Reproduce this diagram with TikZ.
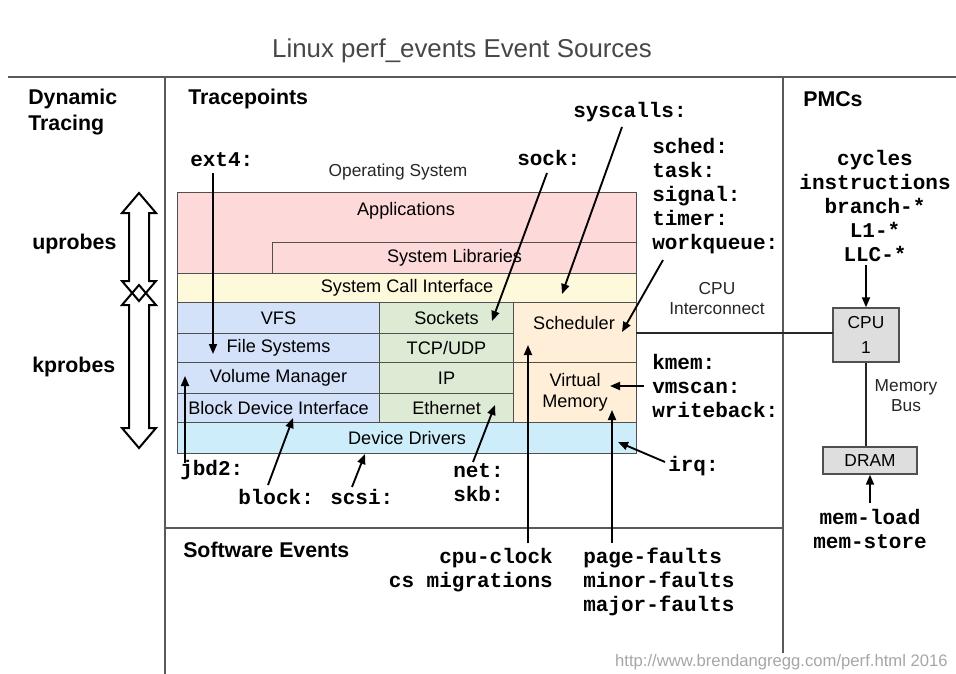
\documentclass[tikz,border=0pt]{standalone}
\usepackage{fontspec}
\setmainfont{Liberation Sans}
\newfontfamily\monofont{Liberation Mono}
\usetikzlibrary{arrows.meta}
\definecolor{apppink}{HTML}{FDD9D9}
\definecolor{sciyellow}{HTML}{FFF9DC}
\definecolor{fsblue}{HTML}{D3E1F9}
\definecolor{netgreen}{HTML}{DDEBD5}
\definecolor{korange}{HTML}{FFEFD9}
\definecolor{ddcyan}{HTML}{CDEDFA}
\definecolor{hwgray}{HTML}{DEDEDE}
\definecolor{edgegray}{HTML}{505050}
\begin{document}
\begin{tikzpicture}[x=0.75pt,y=-0.75pt,
  layer/.style={draw=edgegray, line width=0.8pt, inner sep=0pt, anchor=north west},
  bx/.style n args={2}{minimum width=#1*0.75pt, minimum height=#2*0.75pt},
  lt/.style={font=\fontsize{13.6}{16}\selectfont, inner sep=0pt, align=center},
  sm/.style={font=\fontsize{13}{15}\selectfont, inner sep=0pt, align=center, text=black!85},
  tp/.style={font=\monofont\bfseries\fontsize{15.75}{18}\selectfont, inner sep=0pt, align=left},
  hd/.style={font=\bfseries\fontsize{16}{19.5}\selectfont, inner sep=0pt, align=left, anchor=west},
  hw/.style={draw=edgegray, line width=1pt, fill=hwgray, inner sep=0pt, align=center, font=\fontsize{13}{19}\selectfont},
  div/.style={draw=black!65, line width=1pt},
  arr/.style={-{Triangle[length=7.5pt,width=6pt]}, line width=1.4pt},
  dbl/.style={draw=black, line width=1.5pt, line join=miter}
]
\useasboundingbox (0,0) rectangle (956,674);

% title and dividers
\node[font=\fontsize{19.4}{23}\selectfont, text=black!72, inner sep=0pt] (title) at (462,51) {Linux perf\_events Event Sources};
\draw[div] (8,77) -- (956,77);
\draw[div] (165,77) -- (165,674);
\draw[div] (783,77) -- (783,653);
\draw[div] (165,528) -- (783,528);

% headers
\node[hd] (dyn) at (28,112) {Dynamic\\Tracing};
\node[hd] (tracep) at (188,99) {Tracepoints};
\node[hd] (pmc) at (803,99) {PMCs};
\node[hd] (swev) at (183,550) {Software Events};
\node[hd] (uprobes) at (32,244) {uprobes};
\node[hd] (kprobes) at (32,367) {kprobes};

% double arrows
\draw[dbl] (139,193) -- (156,213) -- (149,213) -- (149,281) -- (156,281) -- (139,301)
  -- (122,281) -- (129,281) -- (129,213) -- (122,213) -- cycle;
\draw[dbl] (139,285) -- (156,305) -- (149,305) -- (149,428) -- (156,428) -- (139,448)
  -- (122,428) -- (129,428) -- (129,305) -- (122,305) -- cycle;

% stack
\node[sm] (os) at (398,172) {Operating System};
\node[layer, fill=apppink, bx={459}{81}] (app) at (177,192) {};
\node[lt] (apptext) at (406,211) {Applications};
\node[layer, fill=apppink, bx={364}{31}, lt, anchor=north west] (syslib) at (272,242) {System Libraries};
\node[layer, fill=sciyellow, bx={459}{29}, lt, anchor=north west] (sci) at (177,273) {System Call Interface};
\node[layer, fill=fsblue, bx={202}{31}, lt, anchor=north west] (vfs) at (177,302) {VFS};
\node[layer, fill=fsblue, bx={202}{29}, lt, anchor=north west] (fs) at (177,333) {File Systems};
\node[layer, fill=fsblue, bx={202}{31}, lt, anchor=north west] (vm) at (177,362) {Volume Manager};
\node[layer, fill=fsblue, bx={202}{29}, lt, anchor=north west] (bdi) at (177,393) {Block Device Interface};
\node[layer, fill=netgreen, bx={134}{31}, lt, anchor=north west] (sockets) at (379,302) {Sockets};
\node[layer, fill=netgreen, bx={134}{29}, lt, anchor=north west] (tcp) at (379,333) {TCP/UDP};
\node[layer, fill=netgreen, bx={134}{31}, lt, anchor=north west] (ip) at (379,362) {IP};
\node[layer, fill=netgreen, bx={134}{29}, lt, anchor=north west] (eth) at (379,393) {Ethernet};
\node[layer, fill=korange, bx={123}{60}] (sched) at (513,302) {};
\node[lt] (schedtext) at (574,323) {Scheduler};
\node[layer, fill=korange, bx={123}{60}, lt, anchor=north west] (vmem) at (513,362) {Virtual\\Memory};
\node[layer, fill=ddcyan, bx={459}{31}, lt, anchor=north west] (dd) at (177,422) {Device Drivers};

% hardware
\node[sm] (interc) at (717,299) {CPU\\Interconnect};
\node[hw, bx={66}{54}] (cpu) at (866,335) {CPU\\1};
\node[hw, bx={94}{27}] (dram) at (870,460.5) {DRAM};
\node[sm] (membus) at (906,396) {Memory\\Bus};
\coordinate (icA) at (636,333);
\coordinate (icB) at (833,333);
\draw[line width=1pt, draw=black!85] (icA) -- (icB);
\draw[line width=1pt, draw=black!85] (cpu.south) -- (cpu.south |- dram.north);

% tracepoint labels
\node[tp, anchor=west] (ext4) at (190,160) {ext4:};
\node[tp, anchor=west] (sockl) at (517,158) {sock:};
\node[tp, anchor=west] (syscalls) at (573,112) {syscalls:};
\node[tp, anchor=west] (schedl) at (652,196) {sched:\\task:\\signal:\\timer:\\workqueue:};
\node[tp, anchor=west] (kmem) at (652,385.5) {kmem:\\vmscan:\\writeback:};
\node[tp, anchor=west] (irq) at (668,466) {irq:};
\node[tp, anchor=west] (jbd2) at (180,470) {jbd2:};
\node[tp, anchor=west] (blockl) at (238,497) {block:};
\node[tp, anchor=west] (scsi) at (330,497) {scsi:};
\node[tp, anchor=west] (netl) at (453,483) {net:\\skb:};
\node[tp, anchor=east, align=right] (cpuclock) at (553,570) {cpu-clock\\cs migrations};
\node[tp, anchor=west] (pagefaults) at (583,582) {page-faults\\minor-faults\\major-faults};
\node[tp, align=center] (pmcs) at (875,206) {cycles\\instructions\\branch-*\\L1-*\\LLC-*};
\node[tp, align=center] (mem) at (870,529) {mem-load\\mem-store};

% arrow endpoints
\coordinate (ext4s) at (213,173);   \coordinate (ext4t) at (213,354);
\coordinate (socks) at (547,173);   \coordinate (sockt) at (492,321);
\coordinate (syss) at (622,127);    \coordinate (syst) at (562,294);
\coordinate (wqs) at (663,260);     \coordinate (wqt) at (622,332);
\coordinate (vms) at (644,386);     \coordinate (vmt) at (610,386);
\coordinate (irqs) at (665,462);    \coordinate (irqt) at (618,442);
\coordinate (jbds) at (185,463);    \coordinate (jbdt) at (185,376);
\coordinate (blks) at (268,485);    \coordinate (blkt) at (293,418);
\coordinate (scss) at (352,487);    \coordinate (scst) at (365,454);
\coordinate (nets) at (473,462);    \coordinate (nett) at (495,405);
\coordinate (cpus) at (528,543);    \coordinate (cput) at (528,345);
\coordinate (pfs) at (612,543);     \coordinate (pft) at (612,410);
\coordinate (pmcs0) at (866,265);
\coordinate (mems) at (870,503);

\draw[arr] (ext4s) -- (ext4t);
\draw[arr] (socks) -- (sockt);
\draw[arr] (syss) -- (syst);
\draw[arr] (wqs) -- (wqt);
\draw[arr] (vms) -- (vmt);
\draw[arr] (irqs) -- (irqt);
\draw[arr] (jbds) -- (jbdt);
\draw[arr] (blks) -- (blkt);
\draw[arr] (scss) -- (scst);
\draw[arr] (nets) -- (nett);
\draw[arr] (cpus) -- (cput);
\draw[arr] (pfs) -- (pft);
\draw[arr] (pmcs0) -- (cpu.north);
\draw[arr] (mems) -- (dram.south);

% footer
\node[font=\fontsize{12.5}{15}\selectfont, text=black!35, anchor=east, inner sep=0pt] (url) at (948,662) {http://www.brendangregg.com/perf.html 2016};
\end{tikzpicture}
\end{document}
